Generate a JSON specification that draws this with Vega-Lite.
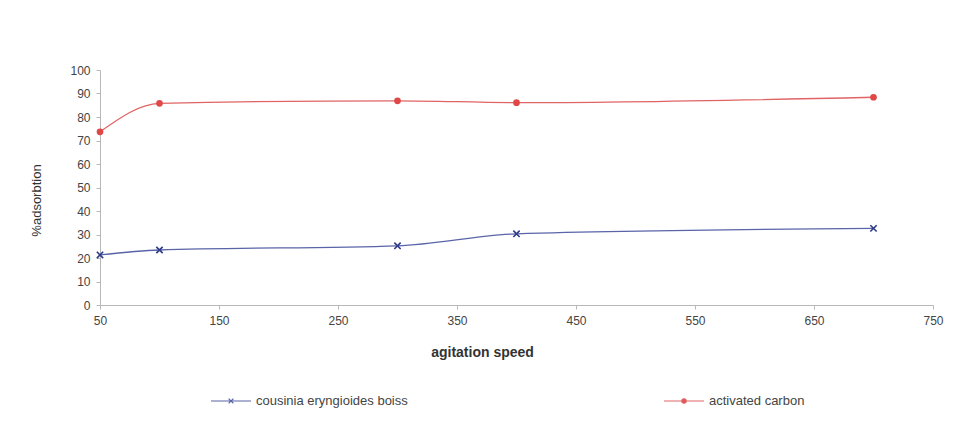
{
  "$schema": "https://vega.github.io/schema/vega-lite/v6.json",
  "width": 833,
  "height": 235,
  "autosize": {"type": "none"},
  "padding": {"left": 100, "top": 70, "right": 22, "bottom": 116},
  "background": "white",
  "config": {
    "view": {"stroke": null},
    "font": "Liberation Sans",
    "axis": {"grid": false, "domainColor": "#b8b8b8", "tickColor": "#b8b8b8", "labelColor": "#444", "titleColor": "#333", "labelFont": "Liberation Sans", "titleFont": "Liberation Sans", "labelFlush": false}
  },
  "data": {
    "values": [
      {"speed": 50, "adsorption": 21.3, "series": "cousinia eryngioides boiss"},
      {"speed": 100, "adsorption": 23.4, "series": "cousinia eryngioides boiss"},
      {"speed": 300, "adsorption": 25.2, "series": "cousinia eryngioides boiss"},
      {"speed": 400, "adsorption": 30.3, "series": "cousinia eryngioides boiss"},
      {"speed": 700, "adsorption": 32.6, "series": "cousinia eryngioides boiss"},
      {"speed": 50, "adsorption": 73.7, "series": "activated carbon"},
      {"speed": 100, "adsorption": 85.8, "series": "activated carbon"},
      {"speed": 300, "adsorption": 86.9, "series": "activated carbon"},
      {"speed": 400, "adsorption": 86.1, "series": "activated carbon"},
      {"speed": 700, "adsorption": 88.4, "series": "activated carbon"}
    ]
  },
  "encoding": {
    "x": {
      "field": "speed", "type": "quantitative",
      "scale": {"domain": [50, 750], "nice": false, "zero": false},
      "axis": {"values": [50, 150, 250, 350, 450, 550, 650, 750], "title": "agitation speed", "titleFontSize": 14, "titleFontWeight": "bold", "titleX": 382, "titleY": 47, "titleBaseline": "middle", "labelFontSize": 12, "tickSize": 4, "labelPadding": 6}
    },
    "y": {
      "field": "adsorption", "type": "quantitative",
      "scale": {"domain": [0, 100], "nice": false},
      "axis": {"values": [0, 10, 20, 30, 40, 50, 60, 70, 80, 90, 100], "title": "%adsorbtion", "titleFontSize": 13, "titleFontWeight": "normal", "titleX": -64, "titleY": 130, "titleAngle": 270, "titleBaseline": "middle", "titleAlign": "center", "labelFontSize": 12, "tickSize": 4, "labelPadding": 6}
    }
  },
  "layer": [
    {
      "mark": {"type": "line", "interpolate": "monotone", "strokeWidth": 1.3},
      "encoding": {
        "color": {
          "field": "series", "type": "nominal",
          "sort": ["cousinia eryngioides boiss", "activated carbon"],
          "scale": {"domain": ["cousinia eryngioides boiss", "activated carbon"], "range": ["#5a64a8", "#e06464"]},
          "legend": {
            "orient": "none", "legendX": 110, "legendY": 310, "direction": "horizontal", "title": null,
            "symbolSize": 1600, "symbolStrokeWidth": 1.2, "labelFontSize": 13, "labelColor": "#444", "labelOffset": 4, "columnPadding": 253, "labelLimit": 400,
            "encode": {
              "symbols": {
                "update": {
                  "shape": {"signal": "datum.value == 'activated carbon' ? 'M-1,0H1M0.11,0A0.11,0.11 0 1,1 -0.11,0A0.11,0.11 0 1,1 0.11,0' : 'M-1,0H1M-0.12,-0.12L0.12,0.12M-0.12,0.12L0.12,-0.12'"},
                  "fill": {"signal": "datum.value == 'activated carbon' ? '#e04848' : 'transparent'"},
                  "stroke": {"signal": "datum.value == 'activated carbon' ? '#e06464' : '#3a4490'"}
                }
              }
            }
          }
        }
      }
    },
    {
      "transform": [{"filter": "datum.series == 'activated carbon'"}],
      "mark": {"type": "point", "shape": "circle", "filled": true, "size": 45, "color": "#e04848", "opacity": 1}
    },
    {
      "transform": [{"filter": "datum.series == 'cousinia eryngioides boiss'"}],
      "mark": {"type": "point", "shape": "M-1,-1L1,1M-1,1L1,-1", "filled": false, "size": 40, "color": "#2e3a8a", "strokeWidth": 1.6, "opacity": 1}
    }
  ]
}
